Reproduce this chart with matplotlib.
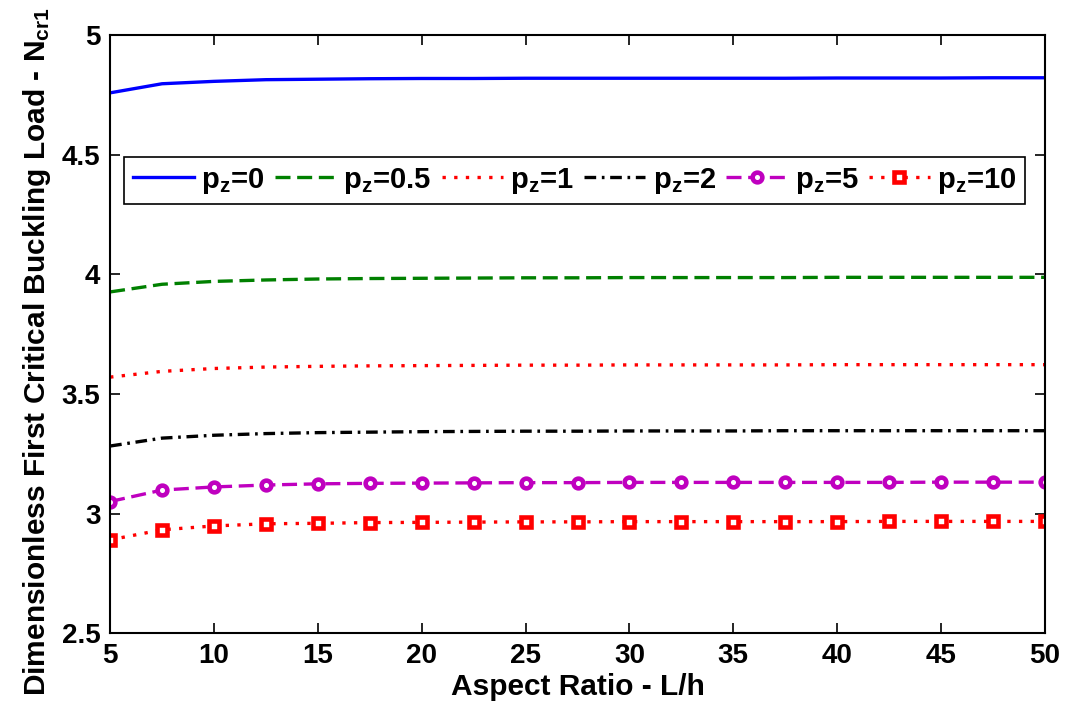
import numpy as np
import matplotlib.pyplot as plt
from matplotlib.ticker import FormatStrFormatter, MultipleLocator

plt.rcParams['font.family'] = ['Liberation Sans', 'DejaVu Sans']
plt.rcParams['font.weight'] = 'bold'
plt.rcParams['mathtext.fontset'] = 'custom'
plt.rcParams['mathtext.rm'] = 'Liberation Sans:bold'
plt.rcParams['mathtext.it'] = 'Liberation Sans:bold'
plt.rcParams['mathtext.bf'] = 'Liberation Sans:bold'
plt.rcParams['mathtext.default'] = 'regular'

# aspect ratio L/h
ratio = [5, 7.5, 10, 12.5, 15, 17.5, 20, 22.5, 25, 27.5, 30, 32.5, 35, 37.5, 40, 42.5, 45, 47.5, 50]

pz0 = [4.758, 4.796, 4.806, 4.813, 4.815, 4.817, 4.818, 4.818, 4.819, 4.819, 4.819, 4.819,
       4.819, 4.819, 4.820, 4.820, 4.820, 4.821, 4.821]
pz05 = [3.926, 3.958, 3.970, 3.976, 3.980, 3.982, 3.983, 3.984, 3.985, 3.985, 3.986, 3.986,
        3.986, 3.986, 3.987, 3.987, 3.987, 3.987, 3.987]
pz1 = [3.570, 3.594, 3.606, 3.612, 3.615, 3.617, 3.618, 3.619, 3.620, 3.620, 3.621, 3.621,
       3.621, 3.621, 3.622, 3.622, 3.622, 3.622, 3.622]
pz2 = [3.282, 3.315, 3.327, 3.334, 3.338, 3.340, 3.342, 3.343, 3.344, 3.344, 3.345, 3.345,
       3.345, 3.346, 3.346, 3.346, 3.346, 3.346, 3.346]
pz5 = [3.050, 3.098, 3.111, 3.119, 3.124, 3.126, 3.127, 3.128, 3.129, 3.129, 3.130, 3.130,
       3.130, 3.130, 3.130, 3.130, 3.131, 3.131, 3.131]
pz10 = [2.890, 2.932, 2.948, 2.957, 2.959, 2.962, 2.963, 2.964, 2.965, 2.965, 2.966, 2.966,
        2.966, 2.966, 2.966, 2.967, 2.967, 2.967, 2.967]

labels = ['$p_z$=0', '$p_z$=0.5', '$p_z$=1', '$p_z$=2', '$p_z$=5', '$p_z$=10']

fig = plt.figure(figsize=(10.69, 7.13), dpi=100)
ax = fig.add_axes([0.103, 0.112, 0.8745, 0.839])

lw = 2.4
dash = (0, (4.5, 2))
dot = (0, (1, 2.5))
ax.plot(ratio, pz0, color='#0000ff', lw=lw, label=labels[0])
ax.plot(ratio, pz05, color='#008000', lw=lw, ls=dash, label=labels[1])
ax.plot(ratio, pz1, color='#ff0000', lw=lw, ls=dot, label=labels[2])
ax.plot(ratio, pz2, color='black', lw=lw, ls=(0, (3.5, 1.7, 0.8, 1.7)), label=labels[3])
ax.plot(ratio, pz5, color='#bf00bf', lw=lw, ls=dash, marker='o', ms=7,
        mfc='white', mew=3.3, label=labels[4])
ax.plot(ratio, pz10, color='#ff0000', lw=lw, ls=dot, marker='s', ms=7,
        mfc='white', mew=3.3, label=labels[5])

ax.set_xlim(5, 50)
ax.set_ylim(2.5, 5)
ax.xaxis.set_major_locator(MultipleLocator(5))
ax.yaxis.set_major_locator(MultipleLocator(0.5))
ax.yaxis.set_major_formatter(FormatStrFormatter('%g'))
ax.tick_params(direction='in', top=True, right=True, labelsize=20, width=1.2, length=7, pad=7)
for s in ax.spines.values():
    s.set_linewidth(1.5)

ax.set_xlabel('Aspect Ratio - L/h', fontsize=21.5, fontweight='bold', labelpad=3)
ax.set_ylabel('Dimensionless First Critical Buckling Load - $N_{cr1}$', fontsize=21.5,
              fontweight='bold', labelpad=6)
ax.yaxis.label.set_y(0.47)

leg = ax.legend(loc='center', bbox_to_anchor=(0.015, 0.709, 0.964, 0.095), mode='expand',
                ncol=6, fontsize=21, handlelength=2.1, handletextpad=0.25, columnspacing=0.5,
                fancybox=False, edgecolor='black', framealpha=1, borderaxespad=0,
                borderpad=0.3)
leg.get_frame().set_linewidth(1.2)

fig.savefig('out.png', dpi=100)
